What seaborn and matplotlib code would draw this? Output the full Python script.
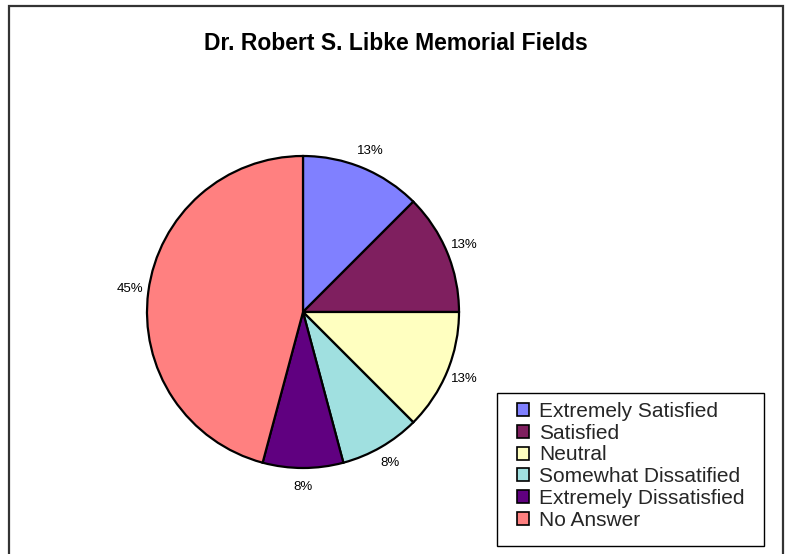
import matplotlib
matplotlib.use("Agg")
import matplotlib.pyplot as plt
import matplotlib.patches as mpatches
import seaborn as sns

# Data
categories = ["Extremely Satisfied", "Satisfied", "Neutral",
              "Somewhat Dissatified", "Extremely Dissatisfied", "No Answer"]
counts = [3, 3, 3, 2, 2, 11]
pct_labels = ["13%", "13%", "13%", "8%", "8%", "45%"]
colors = ["#8080FF", "#7F1F5F", "#FFFFC0", "#A0E0E0", "#600080", "#FF8080"]
title = "Dr. Robert S. Libke Memorial Fields"

sns.set_theme(style="white")
plt.rcParams["font.family"] = ["Liberation Sans", "DejaVu Sans"]

W, H = 789, 554
fig = plt.figure(figsize=(W / 100, H / 100), dpi=100)
fig.patch.set_facecolor("white")

# Pie axes: center (303, 312) px, radius 156 px
cx, cy, R = 303, 312, 156
k = 1.4
half = R * k
ax = fig.add_axes([(cx - half) / W, (H - cy - half) / H, 2 * half / W, 2 * half / H])
wedges, texts = ax.pie(counts, colors=colors, startangle=90, counterclock=False,
                       labels=pct_labels, labeldistance=1.12,
                       wedgeprops=dict(edgecolor="black", linewidth=1.6),
                       textprops=dict(fontsize=9.5, color="#000000"))
for t in texts:
    t.set_ha("center")
    t.set_va("center")
ax.set_xlim(-k, k)
ax.set_ylim(-k, k)
ax.set_aspect("equal")
ax.axis("off")

fig.text(396 / W, 1 - 44 / H, title, ha="center", va="center",
         fontsize=16.5, fontweight="bold", color="black")

# Outer chart border
border = mpatches.Rectangle((8.5 / W, -0.05), (783 - 8.5) / W, 1 - 5.5 / H + 0.05,
                            transform=fig.transFigure, fill=False,
                            edgecolor="#333333", linewidth=1.6, clip_on=False)
fig.patches.append(border)

# Legend frame
frame = mpatches.Rectangle((497 / W, 1 - 546 / H), (764 - 497) / W, (546 - 393) / H,
                           transform=fig.transFigure, fill=True, facecolor="white",
                           edgecolor="black", linewidth=1.0)
fig.patches.append(frame)

leg = fig.legend(wedges, categories, loc="upper left",
                 bbox_to_anchor=(517 / W, 1 - 402 / H),
                 frameon=False,
                 fontsize=15, handlelength=0.58, handleheight=0.58,
                 handletextpad=0.48, labelspacing=0.13, borderpad=0,
                 borderaxespad=0)
for h in leg.legend_handles:
    h.set_linewidth(1.2)

fig.savefig("out.png", dpi=100)
